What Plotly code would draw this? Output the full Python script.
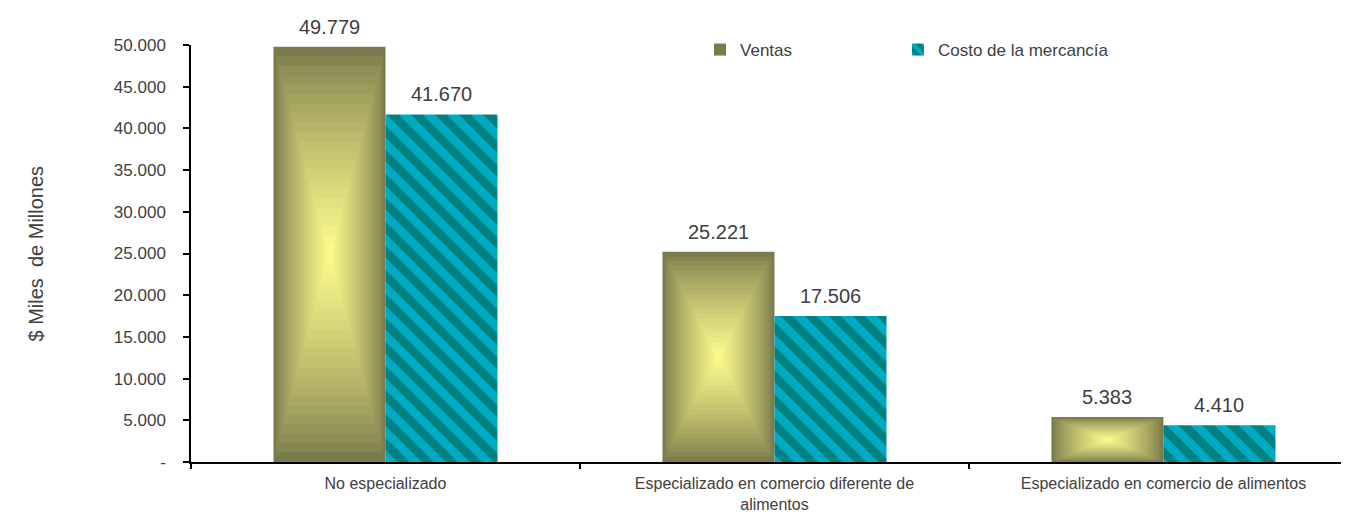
import plotly.graph_objects as go

categories = ["No especializado",
              "Especializado en comercio diferente de<br>alimentos",
              "Especializado en comercio de alimentos"]
ventas = [49779, 25221, 5383]
costo = [41670, 17506, 4410]
y_tickvals = [0, 5000, 10000, 15000, 20000, 25000, 30000, 35000, 40000, 45000, 50000]
y_ticktext = ["-", "5.000", "10.000", "15.000", "20.000", "25.000", "30.000",
              "35.000", "40.000", "45.000", "50.000"]

FONT = "Liberation Sans, Arial, sans-serif"
TXT = "#404040"
W = 0.288          # bar width in category units
N = 22             # gradient layers
edge = (122, 122, 76)
center = (250, 250, 140)

x_idx = list(range(len(categories)))
fig = go.Figure()

# Ventas: concentric rectangular gradient built from overlaid bars
for k in range(N):
    s = 1 - k / N
    t = (k / (N - 1)) ** 0.8
    c = tuple(round(edge[j] + (center[j] - edge[j]) * t) for j in range(3))
    col = "rgb(%d,%d,%d)" % c
    fig.add_trace(go.Bar(
        x=x_idx,
        y=[v * s for v in ventas],
        base=[v * (1 - s) / 2 for v in ventas],
        width=W * s,
        offset=-(W + W * s) / 2,
        marker=dict(color=col, line=dict(width=0)),
        name="Ventas",
        showlegend=(k == 0),
        legend="legend",
        legendgroup="v",
        hoverinfo="skip" if k else None,
    ))

fig.add_trace(go.Bar(
    x=x_idx, y=costo, width=W, offset=0,
    name="Costo de la mercancía",
    legend="legend2",
    marker=dict(color="#008080", line=dict(width=0),
                pattern=dict(shape="\\", fgcolor="#00d4ff", bgcolor="#008080",
                             size=17, solidity=0.5)),
))

# data labels
for i in x_idx:
    for v, off in ((ventas[i], -W / 2), (costo[i], W / 2)):
        fig.add_annotation(x=i + off, y=v, text=f"{v:,}".replace(",", "."),
                           showarrow=False, yanchor="middle", yshift=20,
                           font=dict(size=20, color=TXT, family=FONT))

fig.add_annotation(xref="paper", yref="paper", x=-0.1347, y=0.5,
                   text="$ Miles  de Millones", textangle=-90, showarrow=False,
                   xanchor="center", yanchor="middle",
                   font=dict(size=20, color=TXT, family=FONT))

leg_common = dict(orientation="h", y=0.988, xanchor="left", yanchor="middle",
                  font=dict(size=17, color=TXT, family=FONT),
                  bgcolor="rgba(0,0,0,0)")

fig.update_layout(
    width=1341, height=506,
    margin=dict(l=183, r=0, t=37, b=52, autoexpand=False),
    paper_bgcolor="white", plot_bgcolor="white",
    barmode="overlay",
    font=dict(family=FONT, color=TXT, size=15),
    separators=",.",
    legend=dict(x=0.4396, **leg_common),
    legend2=dict(x=0.6105, **leg_common),
    xaxis=dict(range=[-0.5, 2.477], tickmode="array", tickvals=x_idx,
               ticktext=categories, ticks="", showgrid=False,
               showline=True, linecolor="black", linewidth=1.5,
               ticklabelstandoff=6, automargin=False,
               tickfont=dict(size=16, color=TXT, family=FONT),
               minor=dict(tickmode="array", tickvals=[-0.5, 0.5, 1.5, 2.5],
                          ticks="outside", ticklen=5, tickcolor="black", tickwidth=1.5,
                          showgrid=False),
               zeroline=False, fixedrange=True),
    yaxis=dict(range=[0, 50000], tickmode="array", tickvals=y_tickvals,
               ticktext=y_ticktext, ticks="outside", ticklen=6, tickwidth=1.5,
               tickcolor="black", showline=True, linecolor="black", linewidth=1.5,
               showgrid=False, zeroline=False, ticklabelstandoff=14, automargin=False,
               tickfont=dict(size=17, color=TXT, family=FONT)),
)

fig.write_html("out.html")
